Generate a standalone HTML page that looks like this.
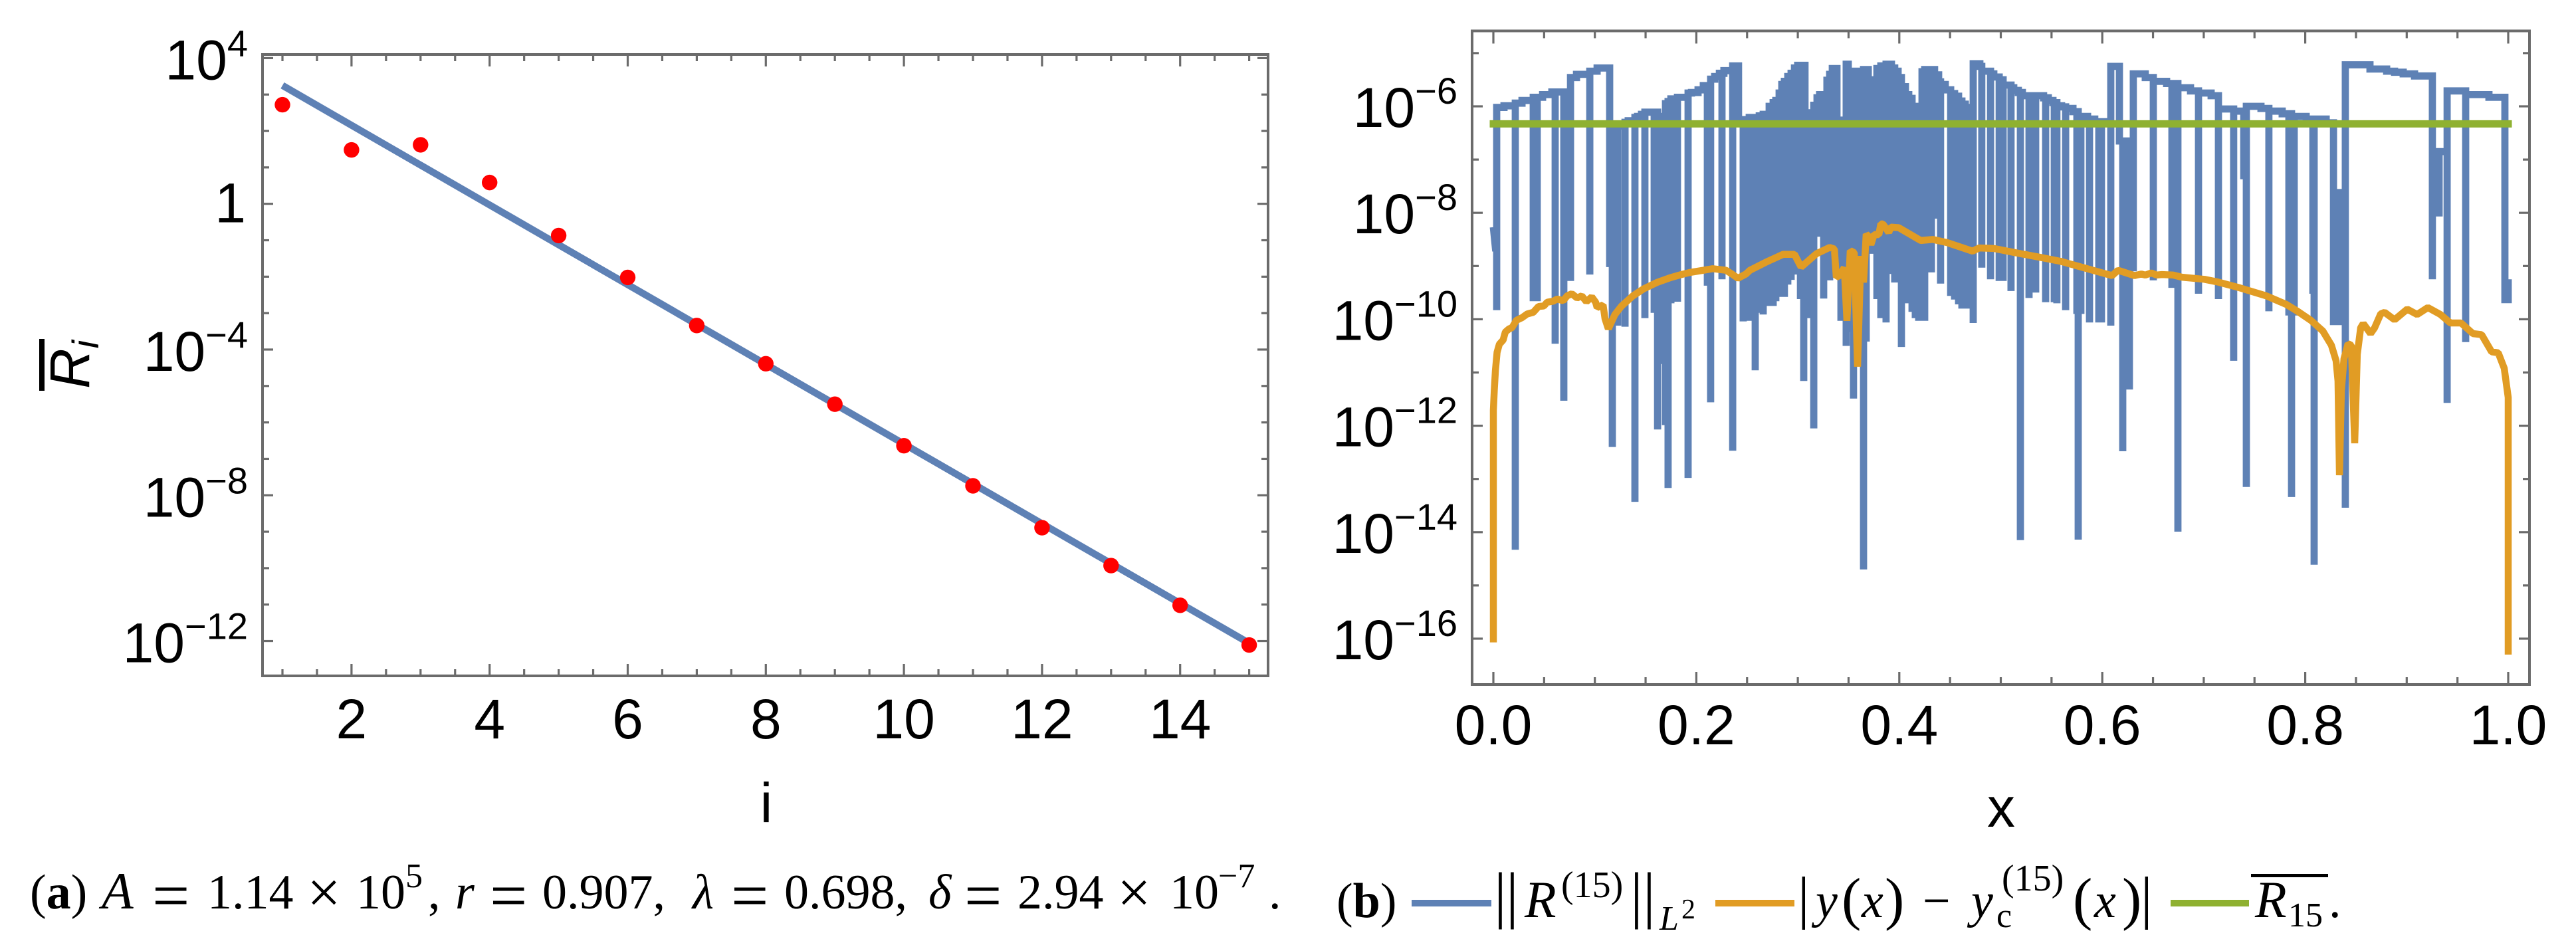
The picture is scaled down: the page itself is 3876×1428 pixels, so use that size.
<!DOCTYPE html>
<html lang="en">
<head>
<meta charset="utf-8">
<title>Residual decay and error plots</title>
<style>
html,body{margin:0;padding:0;background:#fff;}
svg{display:block;}
.sans{font-family:"Liberation Sans",sans-serif;}
.serif{font-family:"Liberation Serif",serif;}
</style>
</head>
<body>
<svg id="fig" xmlns="http://www.w3.org/2000/svg" width="3876" height="1428" viewBox="0 0 3876 1428">
  <rect x="0" y="0" width="3876" height="1428" fill="#ffffff"/>
  <g id="panelA"></g>
  <g id="panelB"></g>

  <g>
    <rect x="59" y="510" width="8" height="78" fill="#000"/>
    <text class="sans" transform="translate(134,585) rotate(-90)" font-size="84" font-style="italic">R<tspan font-size="56" dy="14">i</tspan></text>
  </g>
  <text class="sans" x="1153" y="1237" font-size="84" text-anchor="middle">i</text>
  <text class="sans" x="3011" y="1244" font-size="84" text-anchor="middle">x</text>

  <g class="serif" font-size="74" fill="#000">
    <text x="45" y="1367">(<tspan font-weight="bold">a</tspan>)</text>
    <text x="153" y="1367" font-style="italic" font-size="78">A</text>
    <text x="229" y="1381" font-size="100">=</text>
    <text x="312" y="1367">1.14</text>
    <text x="462" y="1373" font-size="90">×</text>
    <text x="536" y="1367">10</text>
    <text x="610" y="1335" font-size="52">5</text>
    <text x="644" y="1367">,</text>
    <text x="685" y="1367" font-style="italic">r</text>
    <text x="737" y="1381" font-size="100">=</text>
    <text x="816" y="1367">0.907,</text>
    <text x="1042" y="1367" font-style="italic">λ</text>
    <text x="1100" y="1381" font-size="100">=</text>
    <text x="1180" y="1367">0.698,</text>
    <text x="1397" y="1367" font-style="italic">δ</text>
    <text x="1451" y="1381" font-size="100">=</text>
    <text x="1531" y="1367">2.94</text>
    <text x="1681" y="1373" font-size="90">×</text>
    <text x="1760" y="1367">10</text>
    <text x="1833" y="1335" font-size="52">−7</text>
    <text x="1909" y="1367">.</text>
  </g>

  <g class="serif" font-size="74" fill="#000">
    <text x="2011" y="1380">(<tspan font-weight="bold">b</tspan>)</text>

    <rect x="2124" y="1354" width="120" height="10" fill="#5E81B5"/>
    <g>
      <text x="2248" y="1378" font-size="94">|</text>
      <text x="2266" y="1378" font-size="94">|</text>
      <text x="2294" y="1380" font-style="italic" font-size="78">R</text>
      <text x="2349" y="1350" font-size="56">(15)</text>
      <text x="2453" y="1378" font-size="94">|</text>
      <text x="2472" y="1378" font-size="94">|</text>
      <text x="2497" y="1399" font-size="52" font-style="italic">L</text>
      <text x="2530" y="1382" font-size="42">2</text>
    </g>

    <rect x="2581" y="1354" width="119" height="10" fill="#E19C24"/>
    <g>
      <text x="2705" y="1380" font-size="88">|</text>
      <text x="2732" y="1380" font-style="italic">y</text>
      <text x="2771" y="1382" font-size="88">(</text>
      <text x="2801" y="1380" font-style="italic">x</text>
      <text x="2836" y="1382" font-size="88">)</text>
      <text x="2893" y="1380">−</text>
      <text x="2966" y="1380" font-style="italic">y</text>
      <text x="3004" y="1395" font-size="52">c</text>
      <text x="3012" y="1340" font-size="56">(15)</text>
      <text x="3119" y="1382" font-size="88">(</text>
      <text x="3151" y="1380" font-style="italic">x</text>
      <text x="3193" y="1382" font-size="88">)</text>
      <text x="3221" y="1380" font-size="88">|</text>
    </g>

    <rect x="3266" y="1354" width="118" height="10" fill="#8FB131"/>
    <g>
      <rect x="3387" y="1315" width="116" height="5" fill="#000"/>
      <text x="3393" y="1380" font-style="italic" font-size="78">R</text>
      <text x="3443" y="1394" font-size="52">15</text>
      <text x="3504" y="1380">.</text>
    </g>
  </g>
</svg>

<script>
/* ---------- Panel (a) data ---------- */
const iValues = [1,2,3,4,5,6,7,8,9,10,11,12,13,14,15];
const logResidualMean = [2.72,1.48,1.62,0.585,-0.87,-2.02,-3.34,-4.39,-5.50,-6.64,-7.74,-8.89,-9.93,-11.02,-12.11];
const fitI = [1,15];
const fitLog = [3.25,-12.06];
const aXTickLabels = [2,4,6,8,10,12,14];
const aYTickExponents = [4,0,-4,-8,-12];

/* ---------- Panel (b) data: x position, log10 of lowest point of dip, log10 of level after dip ---------- */
const residualLeadX = [0,0.0020];
const residualLeadLog = [-8.27,-8.66];
const residualX = [
0.0033,0.0105,0.0216,0.0282,0.0393,0.0432,0.0485,0.0576,0.0609,0.0694,0.0760,0.0819,0.0950,0.1022,0.1146,0.1172,0.1225,0.1297,0.1329,0.1395,
0.1421,0.1460,0.1493,0.1585,0.1618,0.1657,0.1696,0.1722,0.1749,0.1814,0.1919,0.1952,0.2017,0.2069,0.2109,0.2141,0.2181,0.2227,0.2253,0.2272,
0.2358,0.2416,0.2462,0.2521,0.2580,0.2620,0.2659,0.2718,0.2757,0.2783,0.2816,0.2842,0.2868,0.2901,0.2934,0.2967,0.2999,0.3026,0.3058,0.3071,0.3111,
0.3157,0.3189,0.3215,0.3255,0.3287,0.3314,0.3340,0.3386,0.3425,0.3477,0.3497,0.3549,0.3595,0.3648,0.3674,0.3694,0.3733,0.3779,0.3818,0.3870,
0.3923,0.3955,0.3988,0.4021,0.4060,0.4093,0.4126,0.4158,0.4191,0.4224,0.4250,0.4316,0.4348,0.4388,0.4407,0.4453,0.4506,0.4545,0.4584,0.4617,
0.4650,0.4689,0.4728,0.4794,0.4813,0.4899,0.4931,0.4984,0.5023,0.5101,0.5128,0.5173,0.5193,0.5213,0.5278,0.5318,0.5344,0.5422,0.5442,0.5468,
0.5514,0.5527,0.5553,0.5599,0.5639,0.5711,0.5750,0.5763,0.5789,0.5855,0.5874,0.5926,0.5966,0.5992,0.6084,0.6169,0.6202,0.6267,0.6306,0.6424,
0.6503,0.6634,0.6686,0.6745,0.6870,0.6948,0.7073,0.7145,0.7295,0.7394,0.7420,0.7564,0.7642,0.7773,0.7839,0.7865,0.7891,0.8009,0.8075,0.8088,
0.8206,0.8278,0.8343,0.8395,0.8638,0.8802,0.8880,0.8965,0.9077,0.9253,0.9319,0.9398,0.9581,0.9810,0.9967,1.0000];
const residualDipLog = [
-9.83,-5.99,-14.33,-5.89,-9.66,-9.66,-5.78,-5.73,-10.46,-11.53,-9.28,-5.40,-9.16,-5.28,-9.02,-12.40,-10.12,-10.14,-6.27,-13.43,
-6.19,-6.15,-9.98,-9.88,-12.07,-10.84,-11.99,-13.17,-9.70,-9.67,-12.98,-5.74,-5.69,-5.61,-9.37,-11.56,-5.44,-5.38,-9.25,-5.33,
-12.47,-6.37,-10.04,-10.03,-10.96,-9.88,-9.91,-9.75,-9.75,-9.66,-9.58,-9.58,-9.58,-9.35,-9.26,-9.16,-9.16,-9.62,-11.16,-9.98,-9.98,
-12.05,-8.45,-8.45,-9.61,-9.27,-9.27,-9.16,-9.16,-10.03,-10.50,-10.24,-11.49,-10.24,-14.70,-10.42,-8.16,-8.77,-9.62,-9.98,-10.06,
-9.15,-9.31,-9.31,-10.52,-9.70,-9.70,-9.86,-9.98,-10.03,-10.03,-10.03,-9.12,-8.11,-5.54,-9.33,-5.69,-9.56,-9.63,-9.72,-9.80,
-9.80,-9.80,-10.07,-5.25,-9.03,-9.25,-5.45,-9.28,-9.28,-9.47,-5.70,-5.74,-14.15,-5.80,-9.60,-5.80,-9.50,-5.84,-9.68,-5.89,
-5.93,-9.68,-9.70,-6.01,-9.83,-6.10,-9.90,-14.14,-9.90,-6.24,-10.06,-6.29,-10.06,-10.06,-10.12,-6.65,-12.48,-11.32,-9.10,-5.46,
-9.27,-5.57,-9.41,-13.99,-5.71,-9.52,-5.80,-9.62,-10.78,-7.37,-13.15,-6.04,-9.85,-6.14,-9.93,-13.34,-9.93,-6.24,-9.52,-14.61,
-6.31,-10.11,-10.11,-13.54,-5.30,-5.34,-5.36,-5.39,-5.43,-9.25,-8.07,-11.57,-10.43,-5.83,-9.63,-9.25];
const residualLevelLog = [
-6.02,-5.99,-5.94,-5.89,-5.83,-5.83,-5.78,-5.73,-5.73,-5.73,-5.46,-5.40,-5.34,-5.28,-6.44,-6.44,-6.37,-6.30,-6.27,-6.21,
-6.19,-6.15,-6.11,-6.11,-6.19,-6.19,-5.95,-5.91,-5.86,-5.83,-5.75,-5.74,-5.69,-5.61,-5.61,-5.49,-5.44,-5.38,-5.38,-5.33,
-5.24,-6.27,-6.25,-6.21,-6.21,-6.18,-6.15,-6.00,-5.93,-5.89,-5.75,-5.59,-5.53,-5.44,-5.38,-5.28,-5.23,-5.23,-5.23,-6.21,-6.12,
-5.98,-5.84,-5.78,-5.78,-5.51,-5.40,-5.29,-6.26,-6.26,-5.21,-5.55,-5.34,-5.34,-5.31,-5.31,-5.50,-5.50,-5.29,-5.24,-5.21,
-5.28,-5.34,-5.46,-5.63,-5.78,-5.85,-6.00,-6.09,-6.16,-5.35,-5.31,-5.31,-5.41,-5.54,-5.59,-5.69,-5.76,-5.81,-5.90,-5.96,
-6.02,-6.05,-5.20,-5.25,-5.34,-5.39,-5.45,-5.50,-5.60,-5.65,-5.70,-5.74,-5.74,-5.80,-5.85,-5.80,-5.80,-5.84,-5.84,-5.89,
-5.93,-5.93,-5.99,-6.01,-6.04,-6.10,-6.10,-6.19,-6.19,-6.24,-6.24,-6.29,-6.29,-6.29,-5.25,-6.65,-6.65,-6.65,-5.39,-5.46,
-5.53,-5.57,-5.57,-5.65,-5.71,-5.75,-5.80,-6.05,-6.09,-6.09,-6.00,-6.04,-6.09,-6.14,-6.14,-6.19,-6.19,-6.24,-6.24,-6.24,
-6.31,-7.62,-7.62,-5.22,-5.30,-5.34,-5.36,-5.39,-5.43,-6.85,-6.85,-5.71,-5.78,-5.83,-9.63,-9.25];

const errorX = [
0,0,0.0009,0.0020,0.0037,0.0059,0.0096,0.0118,0.0155,0.0183,0.0227,0.0282,0.0334,0.0393,0.0445,0.0498,0.0530,0.0589,0.0629,0.0688,
0.0727,0.0773,0.0825,0.0871,0.0917,0.0969,0.1008,0.1022,0.1081,0.1100,0.1133,0.1198,0.1264,0.1375,0.1480,0.1611,0.1742,0.1853,0.1938,0.2069,
0.2161,0.2292,0.2358,0.2410,0.2489,0.2528,0.2705,0.2855,0.2967,0.3032,0.3183,0.3314,0.3360,0.3379,0.3412,0.3458,0.3484,0.3517,0.3556,0.3589,
0.3621,0.3648,0.3674,0.3700,0.3720,0.3752,0.3798,0.3818,0.3838,0.3896,0.3916,0.3995,0.4211,0.4329,0.4473,0.4722,0.4787,0.4931,0.5147,0.5370,
0.5586,0.6097,0.6156,0.6319,0.6385,0.6424,0.6483,0.6536,0.6588,0.6699,0.6785,0.7007,0.7138,0.7354,0.7616,0.7813,0.7924,0.8055,0.8173,0.8258,
0.8304,0.8323,0.8337,0.8356,0.8382,0.8422,0.8454,0.8487,0.8513,0.8546,0.8572,0.8644,0.8684,0.8743,0.8782,0.8880,0.9005,0.9103,0.9208,0.9332,
0.9430,0.9535,0.9653,0.9738,0.9836,0.9902,0.9961,1.0000,1.0000];
const errorLog = [
-16.07,-11.71,-11.33,-10.96,-10.62,-10.47,-10.39,-10.24,-10.18,-10.16,-10.02,-9.97,-9.90,-9.87,-9.76,-9.75,-9.68,-9.66,-9.62,-9.65,
-9.56,-9.52,-9.60,-9.56,-9.67,-9.58,-9.68,-9.78,-9.73,-9.99,-10.18,-9.91,-9.75,-9.56,-9.43,-9.31,-9.22,-9.16,-9.12,-9.08,
-9.05,-9.08,-9.16,-9.23,-9.15,-9.08,-8.91,-8.78,-8.78,-9.02,-8.77,-8.65,-8.68,-9.21,-9.18,-9.03,-10.03,-8.71,-8.75,-10.89,
-8.81,-9.31,-8.40,-8.45,-8.60,-8.41,-8.41,-8.21,-8.21,-8.37,-8.27,-8.28,-8.52,-8.50,-8.56,-8.72,-8.66,-8.67,-8.75,-8.83,
-8.91,-9.18,-9.08,-9.18,-9.15,-9.17,-9.13,-9.17,-9.16,-9.17,-9.21,-9.25,-9.30,-9.41,-9.56,-9.72,-9.85,-10.02,-10.22,-10.49,
-10.78,-11.16,-12.93,-11.33,-10.74,-10.46,-10.49,-12.33,-10.66,-10.16,-10.08,-10.27,-10.16,-9.90,-9.87,-10.01,-9.81,-9.91,-9.78,-9.91,
-10.07,-10.07,-10.27,-10.29,-10.61,-10.63,-10.92,-11.47,-16.30];

const meanX = [0,1];
const meanLog = [-6.33,-6.33];
const bXTickLabels = ['0.0','0.2','0.4','0.6','0.8','1.0'];
const bYTickExponents = [-6,-8,-10,-12,-14,-16];

/* ---------- Style ---------- */
const SVG_NS = 'http://www.w3.org/2000/svg';
const FRAME = '#6b6b6b', BLUE = '#5E81B5', ORANGE = '#E19C24', GREEN = '#8FB131', RED = '#FF0000';

function make(parent, tag, attrs) {
  const el = document.createElementNS(SVG_NS, tag);
  for (const k in attrs) el.setAttribute(k, attrs[k]);
  parent.appendChild(el);
  return el;
}

/* ---------- Axis scales ---------- */
const aX = i => 425 + (i - 1) * 103.9;
const aY = lg => 306.7 - lg * 54.82;
const bX = x => 2247 + x * 1527;
const bY = lg => 160 - (lg + 6) * 80.1;

function tickMark(parent, x1, y1, x2, y2) {
  const t = make(parent, 'line', {x1:x1, y1:y1, x2:x2, y2:y2, stroke:FRAME, 'stroke-width':3.2});
  
  
}

function drawFrame(parent, l, t, r, b) {
  const f = make(parent, 'rect', {x:l, y:t, width:r-l, height:b-t, fill:'none', stroke:FRAME, 'stroke-width':4});
  
  
}

function expLabel(parent, rightX, baseY, exponent) {
  const txt = make(parent, 'text', {x:rightX, y:baseY, 'text-anchor':'end', 'font-size':84, 'class':'sans', fill:'#000'});
  
  
  txt.appendChild(document.createTextNode('10'));
  const sup = make(txt, 'tspan', {dy:-35, 'font-size':56});
  sup.textContent = String(exponent).replace('-', '\u2212');
}

function xLabel(parent, x, baseY, str) {
  const txt = make(parent, 'text', {x:x, y:baseY, 'text-anchor':'middle', 'font-size':84, 'class':'sans', fill:'#000'});
  
  
  txt.textContent = str;
}

/* ---------- Panel (a) ---------- */
(function () {
  const g = document.getElementById('panelA');
  const L = 395, R = 1908, T = 82, B = 1017;

  const fit = make(g, 'polyline', {
    points: fitI.map((v, k) => aX(v) + ',' + aY(fitLog[k])).join(' '),
    fill:'none', stroke:BLUE, 'stroke-width':10.5
  });
  
  

  iValues.forEach((v, k) => {
    const c = make(g, 'circle', {cx:aX(v), cy:aY(logResidualMean[k]), r:11.7, fill:RED});
    
    
  });

  for (let v = 1; v <= 15; v += 0.5) {
    const major = v % 2 === 0;
    const len = major ? 18 : 10;
    tickMark(g, aX(v), T, aX(v), T + len);
    tickMark(g, aX(v), B, aX(v), B - len);
  }
  for (let e = 4; e >= -12; e--) {
    const major = aYTickExponents.includes(e);
    const len = major ? 16 : 10;
    tickMark(g, L, aY(e), L + len, aY(e));
    tickMark(g, R, aY(e), R - len, aY(e));
  }
  drawFrame(g, L, T, R, B);

  aYTickExponents.forEach(e => {
    if (e === 0) {
      const one = make(g, 'text', {x:370, y:aY(0) + 28, 'text-anchor':'end', 'font-size':84, 'class':'sans', fill:'#000'});
      
      
      one.textContent = '1';
    } else {
      expLabel(g, 373, aY(e) + 32, e);
    }
  });
  aXTickLabels.forEach(v => xLabel(g, aX(v), 1111, String(v)));
})();

/* ---------- Panel (b) ---------- */
(function () {
  const g = document.getElementById('panelB');
  const L = 2215, R = 3806, T = 46.5, B = 1030;

  /* residual: stepped level with vertical dips */
  let d = '';
  residualLeadX.forEach((x, k) => {
    d += (k === 0 ? 'M' : 'L') + bX(x).toFixed(1) + ' ' + bY(residualLeadLog[k]).toFixed(1);
  });
  let prev = residualLeadLog[residualLeadLog.length - 1];
  residualX.forEach((x, k) => {
    const px = bX(x).toFixed(1);
    d += 'L' + px + ' ' + bY(prev).toFixed(1);
    d += 'L' + px + ' ' + bY(residualDipLog[k]).toFixed(1);
    d += 'L' + px + ' ' + bY(residualLevelLog[k]).toFixed(1);
    prev = residualLevelLog[k];
  });
  const blue = make(g, 'path', {d:d, fill:'none', stroke:BLUE, 'stroke-width':10.8, 'stroke-linejoin':'miter', 'stroke-miterlimit':3});
  
  

  const orange = make(g, 'polyline', {
    points: errorX.map((x, k) => bX(x).toFixed(1) + ',' + bY(errorLog[k]).toFixed(1)).join(' '),
    fill:'none', stroke:ORANGE, 'stroke-width':10.5, 'stroke-linejoin':'bevel'
  });
  
  

  const green = make(g, 'polyline', {
    points: meanX.map((x, k) => bX(x) + ',' + bY(meanLog[k])).join(' '),
    fill:'none', stroke:GREEN, 'stroke-width':11, 'stroke-linecap':'square'
  });
  
  

  for (let n = 0; n <= 20; n++) {
    const v = n / 20;
    const major = n % 4 === 0;
    const len = major ? 19 : 11;
    tickMark(g, bX(v), T, bX(v), T + len);
    tickMark(g, bX(v), B, bX(v), B - len);
  }
  for (let e = -5; e >= -16; e--) {
    const major = bYTickExponents.includes(e);
    const len = major ? 16 : 10;
    tickMark(g, L, bY(e), L + len, bY(e));
    tickMark(g, R, bY(e), R - len, bY(e));
  }
  drawFrame(g, L, T, R, B);

  bYTickExponents.forEach(e => expLabel(g, 2193, bY(e) + 31, e));
  bXTickLabels.forEach(s => xLabel(g, bX(parseFloat(s)), 1120, s));
})();
</script>
</body>
</html>
